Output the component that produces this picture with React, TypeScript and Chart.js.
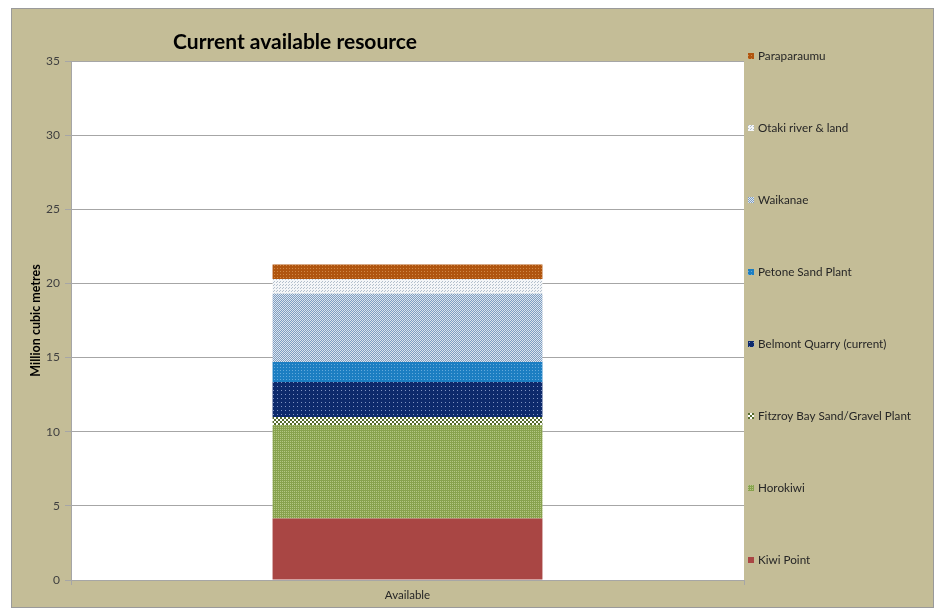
import React, { useEffect, useRef } from "react";
import { Chart, registerables } from "chart.js";

Chart.register(...registerables);

const categories = ["Available"];
const chartTitle = "Current available resource";
const yAxisTitle = "Million cubic metres";
const yTicks = [0, 5, 10, 15, 20, 25, 30, 35];

// stacked from bottom to top
const seriesNames = [
  "Kiwi Point",
  "Horokiwi",
  "Fitzroy Bay Sand/Gravel Plant",
  "Belmont Quarry (current)",
  "Petone Sand Plant",
  "Waikanae",
  "Otaki river & land",
  "Paraparaumu",
];
const kiwiPoint = [4.15];
const horokiwi = [6.3];
const fitzroyBay = [0.55];
const belmontQuarry = [2.35];
const petoneSandPlant = [1.35];
const waikanae = [4.6];
const otakiRiver = [1.0];
const paraparaumu = [0.98];
const seriesValues = [kiwiPoint, horokiwi, fitzroyBay, belmontQuarry, petoneSandPlant, waikanae, otakiRiver, paraparaumu];

type PatternSpec = { bg: string; fg: string; size: number; dots: [number, number][] };
const patternSpecs: PatternSpec[] = [
  { bg: "#A94644", fg: "#A94644", size: 2, dots: [] },
  { bg: "#88A24E", fg: "#B3C684", size: 2, dots: [[0, 0]] },
  { bg: "#FFFFFF", fg: "#556B2B", size: 4, dots: [[0, 0], [1, 0], [0, 1], [1, 1], [2, 2], [3, 2], [2, 3], [3, 3]] },
  { bg: "#0D2A6C", fg: "#7F93C2", size: 4, dots: [[1, 1]] },
  { bg: "#1C7EC2", fg: "#63A9DB", size: 3, dots: [[1, 1]] },
  { bg: "#DDE5EE", fg: "#7E9EC2", size: 2, dots: [[0, 0], [1, 1]] },
  { bg: "#F4F6F8", fg: "#B3BFCC", size: 3, dots: [[0, 0], [1, 2]] },
  { bg: "#B0550F", fg: "#D08745", size: 3, dots: [[1, 1]] },
];

function makePattern(spec: PatternSpec): CanvasPattern | string {
  const c = document.createElement("canvas");
  c.width = spec.size;
  c.height = spec.size;
  const ctx = c.getContext("2d");
  if (!ctx) return spec.bg;
  ctx.fillStyle = spec.bg;
  ctx.fillRect(0, 0, spec.size, spec.size);
  ctx.fillStyle = spec.fg;
  spec.dots.forEach(([x, y]) => ctx.fillRect(x, y, 1, 1));
  return ctx.createPattern(c, "repeat") || spec.bg;
}

const plotBgPlugin = {
  id: "plotBg",
  beforeDraw(chart: any) {
    const { ctx, chartArea } = chart;
    ctx.save();
    ctx.fillStyle = "#FFFFFF";
    ctx.fillRect(chartArea.left, chartArea.top, chartArea.right - chartArea.left, chartArea.bottom - chartArea.top);
    ctx.restore();
  },
};

const titlePlugin = {
  id: "customTitle",
  afterDraw(chart: any) {
    const { ctx } = chart;
    ctx.save();
    ctx.font = "bold 21px Lato";
    ctx.fillStyle = "#000000";
    ctx.textAlign = "center";
    ctx.textBaseline = "alphabetic";
    ctx.fillText(chartTitle, 283, 40);
    ctx.restore();
  },
};

const legendPlugin = {
  id: "customLegend",
  afterDraw(chart: any) {
    const { ctx } = chart;
    const ds = chart.data.datasets;
    const x = chart.chartArea.right + 4;
    const top = 47;
    const step = 72;
    ctx.save();
    ctx.font = "11.7px Lato";
    ctx.textBaseline = "middle";
    ctx.textAlign = "left";
    for (let i = 0; i < ds.length; i++) {
      const d = ds[ds.length - 1 - i];
      const y = top + i * step;
      ctx.fillStyle = d.backgroundColor;
      ctx.fillRect(x, y - 3, 6, 6);
      ctx.fillStyle = "#262626";
      ctx.fillText(d.label, x + 10, y);
    }
    ctx.restore();
  },
};

export default function App() {
  const ref = useRef<HTMLCanvasElement>(null);
  useEffect(() => {
    if (!ref.current) return;
    const datasets = seriesNames.map((name, i) => ({
      label: name,
      data: seriesValues[i],
      backgroundColor: makePattern(patternSpecs[i]) as any,
      borderWidth: 0,
      categoryPercentage: 1,
      barPercentage: 0.401,
    }));
    const chart = new Chart(ref.current, {
      type: "bar",
      data: { labels: categories, datasets },
      options: {
        responsive: false,
        animation: false,
        layout: { padding: { top: 52, right: 189, left: 0, bottom: 0 } },
        plugins: { legend: { display: false }, tooltip: { enabled: false }, title: { display: false } },
        scales: {
          x: {
            stacked: true,
            grid: { display: true, drawOnChartArea: false, offset: true, tickLength: 5, color: "#A6A6A6" },
            border: { display: true, color: "#A6A6A6" },
            ticks: { font: { family: "Lato", size: 11.5 }, color: "#262626", padding: 3 },
            afterFit: (scale: any) => {
              scale.height = 27;
            },
          },
          y: {
            stacked: true,
            min: 0,
            max: 35,
            afterBuildTicks: (scale: any) => {
              scale.ticks = yTicks.map((v) => ({ value: v }));
            },
            grid: { color: "#A6A6A6", tickLength: 6 },
            border: { display: true, color: "#A6A6A6" },
            ticks: { font: { family: "Lato", size: 12 }, color: "#404040", padding: 5 },
            title: {
              display: true,
              text: yAxisTitle,
              font: { family: "Lato", size: 12.5, weight: "bold" },
              color: "#000000",
              padding: { top: 16, bottom: 0 },
            },
            afterFit: (scale: any) => {
              scale.width = 59;
            },
          },
        },
      },
      plugins: [plotBgPlugin, titlePlugin, legendPlugin],
    });
    return () => chart.destroy();
  }, []);
  return (
    <div
      style={{
        position: "absolute",
        left: 11,
        top: 8,
        width: 923,
        height: 600,
        boxSizing: "border-box",
        border: "1px solid #9A9A9A",
        background: "#C4BD97",
      }}
    >
      <canvas ref={ref} width={921} height={598} style={{ display: "block" }} />
    </div>
  );
}
